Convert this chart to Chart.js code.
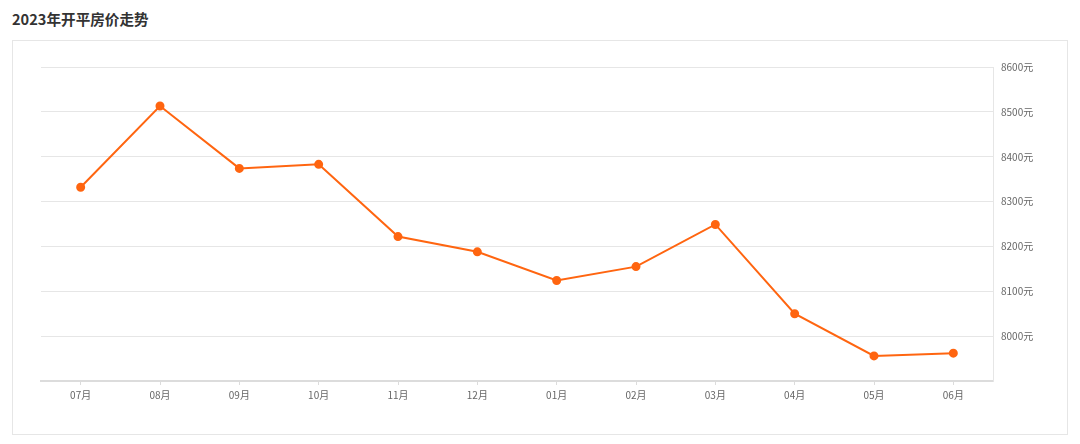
<!DOCTYPE html>
<html>
<head>
<meta charset="utf-8">
<script src="https://cdn.jsdelivr.net/npm/chart.js@4"></script>
<style>
  body { margin: 0; background: #fff; font-family: "Noto Sans CJK SC", sans-serif; }
  .title { position: absolute; left: 12px; top: 8px; font-size: 14.6px; font-weight: bold; color: #333; line-height: 22px; }
  .box { position: absolute; left: 12px; top: 40px; width: 1054px; height: 393px; border: 1px solid #e6e6e6; }
</style>
</head>
<body>
<div class="title">2023年开平房价走势</div>
<div class="box"><canvas id="myChart"></canvas></div>
<script>
// data
const months = ['07月', '08月', '09月', '10月', '11月', '12月', '01月', '02月', '03月', '04月', '05月', '06月'];
const prices = [8332, 8513, 8374, 8383, 8222, 8188, 8124, 8155, 8249, 8050, 7956, 7962];
const yMin = 7900;
const yMax = 8600;
const yStep = 100;

const ctx = document.getElementById('myChart').getContext('2d');
const myChart = new Chart(ctx, {
    type: 'line',
    data: {
        labels: months,
        datasets: [{
            data: prices,
            borderColor: '#ff6510',
            backgroundColor: '#ff6510',
            borderWidth: 2,
            pointRadius: 3.5,
            pointHoverRadius: 5,
            tension: 0
        }]
    },
    options: {
        responsive: true,
        maintainAspectRatio: false,
        animation: false,
        layout: { padding: { left: 28, right: 0, top: 26, bottom: 29 } },
        plugins: { legend: { display: false }, tooltip: { enabled: false } },
        scales: {
            x: {
                offset: true,
                grid: { drawOnChartArea: false, drawTicks: true, tickLength: 4, color: '#dcdcdc' },
                border: { color: '#dcdcdc', width: 2 },
                ticks: { color: '#666', font: { size: 10, family: 'Noto Sans CJK SC' }, padding: 4, maxRotation: 0 }
            },
            y: {
                position: 'right',
                min: yMin,
                max: yMax,
                grid: { color: '#e6e6e6', drawTicks: false },
                border: { color: '#e6e6e6', width: 1 },
                ticks: {
                    stepSize: yStep,
                    color: '#666',
                    padding: 8,
                    font: { size: 10, family: 'Noto Sans CJK SC' },
                    callback: v => v >= 8000 ? v + '元' : ''
                },
                afterFit: axis => { axis.width = 74; }
            }
        }
    }
});
</script>
</body>
</html>
